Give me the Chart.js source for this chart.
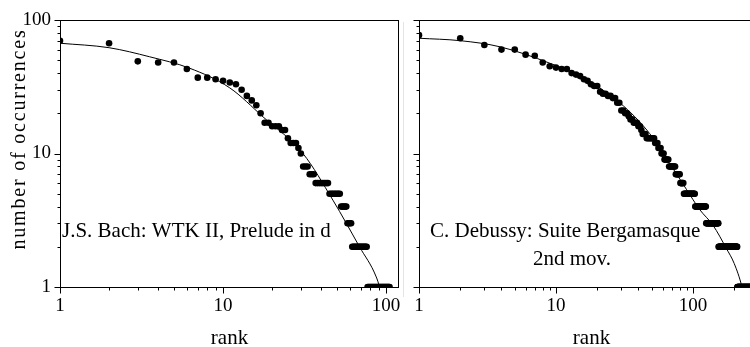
<!DOCTYPE html>
<html>
<head>
<meta charset="utf-8">
<script src="https://cdn.jsdelivr.net/npm/chart.js@4/dist/chart.umd.min.js"></script>
<style>
  body { margin: 0; background: #fff; overflow: hidden; width: 750px; height: 347px; position: relative; }
  canvas { position: absolute; top: 0; }
  #c1 { left: 0; }
  #c2 { left: 400px; }
  #sep { position: absolute; left: 403px; top: 22px; width: 1px; height: 275px; background: #e4e4e4; }
</style>
</head>
<body>
<canvas id="c1" width="403" height="347"></canvas>
<div id="sep"></div>
<canvas id="c2" width="368" height="347"></canvas>
<script>
// rank-frequency counts, rank = position in list (1, 2, 3, ...)
var bachCounts = [70, 67, 49, 48, 48, 43, 37, 37, 36, 35,
    34, 33, 30, 27, 25, 23, 20, 17, 17, 16,
    16, 16, 15, 15, 13, 12, 12, 12, 11, 10,
    8, 8, 8, 7, 7, 7, 6, 6, 6, 6,
    6, 6, 6, 6, 5, 5, 5, 5, 5, 5,
    5, 5, 4, 4, 4, 4, 4, 3, 3, 3,
    3, 2, 2, 2, 2, 2, 2, 2, 2, 2,
    2, 2, 2, 2, 2, 2, 1, 1, 1, 1,
    1, 1, 1, 1, 1, 1, 1, 1, 1, 1,
    1, 1, 1, 1, 1, 1, 1, 1, 1, 1,
    1, 1, 1, 1, 1];

var debussyCounts = [77, 73, 65, 60, 60, 55, 54, 48, 45, 44,
    43, 43, 40, 39, 38, 36, 35, 33, 32, 32,
    29, 28, 28, 27, 27, 26, 26, 24, 24, 21,
    21, 20, 20, 19, 18, 18, 17, 17, 17, 16,
    16, 15, 14, 14, 14, 13, 13, 13, 13, 13,
    13, 13, 12, 12, 12, 11, 11, 11, 10, 10,
    10, 9, 9, 9, 9, 9, 8, 8, 8, 8,
    8, 8, 8, 8, 7, 7, 7, 7, 7, 7,
    6, 6, 6, 6, 6, 5, 5, 5, 5, 5,
    5, 5, 5, 5, 5, 5, 5, 5, 5, 5,
    5, 5, 5, 4, 4, 4, 4, 4, 4, 4,
    4, 4, 4, 4, 4, 4, 4, 4, 4, 4,
    4, 4, 4, 4, 3, 3, 3, 3, 3, 3,
    3, 3, 3, 3, 3, 3, 3, 3, 3, 3,
    3, 3, 3, 3, 3, 3, 3, 3, 3, 3,
    3, 3, 3, 2, 2, 2, 2, 2, 2, 2,
    2, 2, 2, 2, 2, 2, 2, 2, 2, 2,
    2, 2, 2, 2, 2, 2, 2, 2, 2, 2,
    2, 2, 2, 2, 2, 2, 2, 2, 2, 2,
    2, 2, 2, 2, 2, 2, 2, 2, 2, 2,
    2, 2, 2, 2, 2, 2, 2, 2, 2, 2,
    1, 1, 1, 1, 1, 1, 1, 1, 1, 1,
    1, 1, 1, 1, 1, 1, 1, 1, 1, 1,
    1, 1, 1, 1, 1, 1, 1, 1, 1, 1,
    1, 1, 1, 1, 1, 1, 1, 1, 1, 1,
    1, 1, 1, 1, 1, 1, 1, 1, 1, 1,
    1, 1];

// fitted curves
var bachFitRank = [1, 2, 3.55, 6.25, 11, 17.6, 30.9, 47.2, 68.7, 87, 91, 95];
var bachFitCount = [67, 62, 53, 43.5, 31, 18.8, 10, 4.47, 2, 1.19, 1, 0.75];
var debussyFitRank = [1, 2, 3.9, 9, 14.9, 29.2, 48.3, 67.7, 89.5, 112, 140, 175, 200, 228, 245];
var debussyFitCount = [73, 70, 63, 47.5, 38, 24, 14.1, 8.4, 5.4, 3.8, 2.9, 1.95, 1.5, 1, 0.7];

var yTicks = [1, 2, 3, 4, 5, 6, 7, 8, 9, 10, 20, 30, 40, 50, 60, 70, 80, 90, 100];
var xTicksBach = [1, 2, 3, 4, 5, 6, 7, 8, 9, 10, 20, 30, 40, 50, 60, 70, 80, 90, 100];
var xTicksDebussy = [1, 2, 3, 4, 5, 6, 7, 8, 9, 10, 20, 30, 40, 50, 60, 70, 80, 90, 100, 200, 300];
var majorTicks = [1, 10, 100];

var serif = "'Liberation Serif', 'Times New Roman', serif";

// frame, tick marks, notes
var frameTicks = {
    id: "frameTicks",
    afterDraw: function (chart, args, opts) {
        var ctx = chart.ctx, a = chart.chartArea;
        var xs = chart.scales.x, ys = chart.scales.y;
        var L = Math.round(a.left) + 0.5, R = Math.round(a.right) - 0.5;
        var T = Math.round(a.top) + 0.5, B = Math.round(a.bottom) + 0.5;
        ctx.save();
        ctx.strokeStyle = "#000";
        ctx.lineWidth = 1;
        ctx.strokeRect(L, T, R - L, B - T);
        ctx.beginPath();
        xs.ticks.forEach(function (t) {
            var px = Math.round(xs.getPixelForValue(t.value)) + 0.5;
            var len = majorTicks.includes(t.value) ? 6 : 3;
            ctx.moveTo(px, B);
            ctx.lineTo(px, B + len);
        });
        ys.ticks.forEach(function (t) {
            var py = Math.round(ys.getPixelForValue(t.value)) + 0.5;
            var len = majorTicks.includes(t.value) ? 6 : 3;
            ctx.moveTo(L, py);
            ctx.lineTo(L - len, py);
        });
        ctx.stroke();
        ctx.fillStyle = "#000";
        ctx.font = "21px " + serif;
        ctx.textBaseline = "alphabetic";
        (opts.notes || []).forEach(function (n) {
            ctx.textAlign = "left";
            ctx.fillText(n.text, n.x, n.y);
        });
        if (opts.yTitle) {
            ctx.font = "20px " + serif;
            ctx.letterSpacing = "1.8px";
            ctx.translate(25, 139);
            ctx.rotate(-Math.PI / 2);
            ctx.textAlign = "center";
            ctx.fillText(opts.yTitle, 0, 0);
        }
        ctx.restore();
    },
};

function makeChart(id, counts, fitRank, fitCount, xMax, xTicks, yAxisWidth, showYLabels, notes, yTitle, padRight) {
    var points = counts.map(function (c, i) {
        return { x: i + 1, y: c };
    });
    var fit = fitRank.map(function (r, i) {
        return { x: r, y: fitCount[i] };
    });
    var ctx = document.getElementById(id).getContext("2d");
    return new Chart(ctx, {
        type: "scatter",
        data: {
            datasets: [
                {
                    data: points,
                    pointRadius: 3.3,
                    pointBackgroundColor: "#000",
                    pointBorderWidth: 0,
                    showLine: false,
                },
                {
                    data: fit,
                    showLine: true,
                    borderColor: "#000",
                    borderWidth: 1,
                    pointRadius: 0,
                    cubicInterpolationMode: "monotone",
                },
            ],
        },
        options: {
            responsive: false,
            animation: false,
            events: [],
            layout: { padding: { top: 20, right: padRight, left: 0, bottom: 0 } },
            plugins: {
                legend: { display: false },
                tooltip: { enabled: false },
                frameTicks: { notes: notes, yTitle: yTitle },
            },
            scales: {
                x: {
                    type: "logarithmic",
                    min: 1,
                    max: xMax,
                    afterBuildTicks: function (s) {
                        s.ticks = xTicks.map(function (v) { return { value: v }; });
                    },
                    afterFit: function (s) {
                        s.height = 60;
                        s.paddingLeft = 0;
                        s.paddingRight = 0;
                    },
                    grid: { display: false, drawTicks: false },
                    border: { display: false },
                    ticks: {
                        autoSkip: false,
                        maxRotation: 0,
                        padding: 8,
                        color: "#000",
                        font: { family: serif, size: 19 },
                        callback: function (v) {
                            return majorTicks.includes(v) ? String(v) : "";
                        },
                    },
                    title: {
                        display: true,
                        text: "rank",
                        color: "#000",
                        padding: 0,
                        font: { family: serif, size: 21, lineHeight: 0.85 },
                    },
                },
                y: {
                    type: "logarithmic",
                    min: 1,
                    max: 100,
                    afterBuildTicks: function (s) {
                        s.ticks = yTicks.map(function (v) { return { value: v }; });
                    },
                    afterFit: function (s) {
                        s.width = yAxisWidth;
                        s.paddingTop = 0;
                        s.paddingBottom = 0;
                    },
                    grid: { display: false, drawTicks: false },
                    border: { display: false },
                    ticks: {
                        display: showYLabels,
                        autoSkip: false,
                        padding: 9,
                        color: "#000",
                        font: { family: serif, size: 19 },
                        callback: function (v) {
                            return majorTicks.includes(v) ? String(v) : "";
                        },
                    },
                },
            },
        },
        plugins: [frameTicks],
    });
}

makeChart("c1", bachCounts, bachFitRank, bachFitCount, 120, xTicksBach, 60, true,
    [{ text: "J.S. Bach: WTK II, Prelude in d", x: 62, y: 237 }],
    "number of occurrences", 1);

makeChart("c2", debussyCounts, debussyFitRank, debussyFitCount, 330, xTicksDebussy, 19, false,
    [{ text: "C. Debussy: Suite Bergamasque", x: 30, y: 237 },
     { text: "2nd mov.", x: 133, y: 265 }],
    null, 0);
</script>
</body>
</html>
